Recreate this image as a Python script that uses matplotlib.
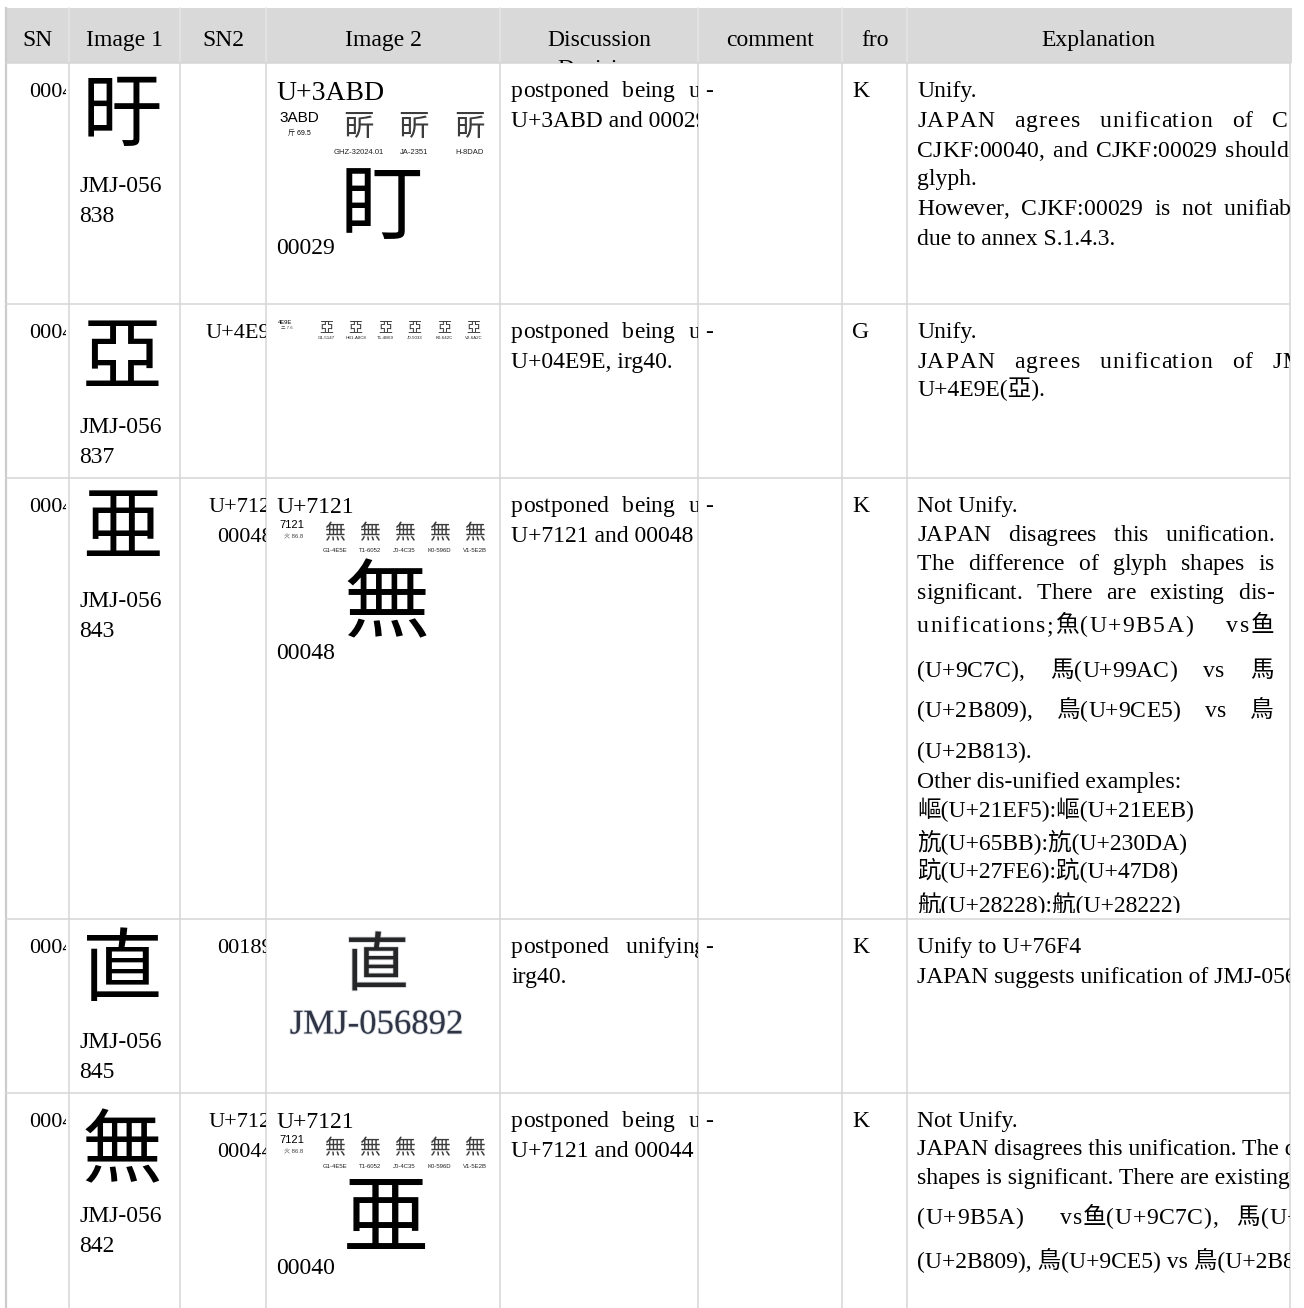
import numpy as np
import matplotlib
matplotlib.use('Agg')
import matplotlib.pyplot as plt
import matplotlib.patheffects as pe
from matplotlib.patches import Rectangle
from matplotlib.font_manager import FontProperties, findfont, get_font

SERIF = 'Liberation Serif'
SANS = 'Liberation Sans'
CJK = 'Noto Sans CJK JP'

# ---- table content ---------------------------------------------------
headers = ['SN', 'Image 1', 'SN2', 'Image 2', 'Discussion', 'comment', 'fro', 'Explanation']
sn = ['00041', '00042', '00043', '00044', '00045']
img1_char = ['旴', '亞', '亜', '直', '無']
img1_code = [['JMJ-056', '838'], ['JMJ-056', '837'], ['JMJ-056', '843'],
             ['JMJ-056', '845'], ['JMJ-056', '842']]
sn2 = [[], ['U+4E9E'], ['U+7121', '00048'], ['00189'], ['U+7121', '00044']]
discussion = [['postponed being unified with', 'U+3ABD and 00029'],
              ['postponed being unified', 'U+04E9E, irg40.'],
              ['postponed being unified', 'U+7121 and 00048'],
              ['postponed unifying', 'irg40.'],
              ['postponed being unified', 'U+7121 and 00044']]
comment = ['-', '-', '-', '-', '-']
fro = ['K', 'G', 'K', 'K', 'K']

refs_3abd = ['GHZ-32024.01', 'JA-2351', 'H-8DAD']
refs_4e9e = ['G1-5147', 'HB1-A8C8', 'T1-4B69', 'J0-5033', 'K0-642C', 'V2-6A2C']
refs_7121 = ['G1-4E5E', 'T1-6052', 'J0-4C35', 'K0-596D', 'V1-5E2B']

explanation = [
    ['Unify.',
     'JAPAN agrees unification of CJKF:00029 and',
     'CJKF:00040, and CJKF:00029 should',
     'glyph.',
     'However, CJKF:00029 is not unifiable',
     'due to annex S.1.4.3.'],
    ['Unify.',
     'JAPAN agrees unification of JMJ-056837 and',
     'U+4E9E(亞).'],
    ['Not Unify.',
     'JAPAN disagrees this unification.',
     'The difference of glyph shapes is',
     'significant. There are existing dis-',
     'unifications;魚(U+9B5A) vs鱼',
     '(U+9C7C), 馬(U+99AC) vs 馬',
     '(U+2B809), 鳥(U+9CE5) vs 鳥',
     '(U+2B813).',
     'Other dis-unified examples:',
     '嶇(U+21EF5):嶇(U+21EEB)',
     '斻(U+65BB):斻(U+230DA)',
     '䟘(U+27FE6):䟘(U+47D8)',
     '航(U+28228):航(U+28222)'],
    ['Unify to U+76F4',
     'JAPAN suggests unification of JMJ-056845 to U+76F4.'],
    ['Not Unify.',
     'JAPAN disagrees this unification. The difference of glyph',
     'shapes is significant. There are existing dis-unifications;魚',
     '(U+9B5A)  vs鱼(U+9C7C), 馬(U+99AC) vs 馬',
     '(U+2B809), 鳥(U+9CE5) vs 鳥(U+2B813).'],
]

# ---- layout ----------------------------------------------------------
W, H = 1304, 1308
col_x = [6, 69, 180, 266, 500, 698, 842, 907, 1290]
row_y = [63, 304, 478, 919, 1093, 1308]
HEAD_TOP = 8
line_gaps = [[30, 30, 28, 30, 30], [30, 28],
             [29, 29, 29, 33, 45, 40, 41, 30, 29, 33, 28, 34], [30], [28, 29, 40, 43]]
expl_style = {(0, 1): dict(track=1.0, extra=12), (0, 2): dict(extra=3), (0, 4): dict(extra=6),
              (1, 1): dict(track=1.0, extra=12),
              (2, 1): dict(right=1274), (2, 2): dict(right=1274),
              (2, 3): dict(right=1274), (2, 4): dict(track=1.5, right=1274),
              (2, 5): dict(right=1274), (2, 6): dict(right=1274),
              (4, 3): dict(track=0.5, extra=12)}
disc_extra = [8, 8, 8, 12, 8]
glyph_dy = [54, 56, 52, 53, 60]
BODY = 17

fig = plt.figure(figsize=(W / 100, H / 100), dpi=100)
ax = fig.add_axes([0, 0, 1, 1])
ax.set_xlim(0, W)
ax.set_ylim(H, 0)
ax.axis('off')

cjk_map = get_font(findfont(FontProperties(family=CJK))).get_charmap()


def have(ch, alt):
    return ch if ord(ch) in cjk_map else alt


def advance(ch, size):
    fam = CJK if ord(ch) >= 0x2E80 else SERIF
    f = get_font(findfont(FontProperties(family=fam)))
    f.set_size(size, 100)
    return f.load_char(ord(ch)).linearHoriAdvance / 65536


def box(x0, y0, x1, y1):
    r = Rectangle((x0, y0), x1 - x0, y1 - y0)
    r.set_transform(ax.transData)
    return r


def one(x, yb, s, size, clip, ha, **kw):
    t = ax.text(x, yb, s, fontsize=size, family=[SERIF, CJK], va='baseline', ha=ha,
                clip_on=clip is not None, **kw)
    if clip is not None:
        t.set_clip_path(clip)


def put(x, yc, s, size=BODY, track=0.0, extra=0.0, right=None, clip=None, ha='left', **kw):
    yb = yc + 0.3 * size * 100 / 72
    if right is None and track == 0 and extra == 0:
        one(x, yb, s, size, clip, ha, **kw)
        return
    adv = [advance(c, size) for c in s]
    if right is not None:
        nat = sum(adv) + track * (len(s) - 1)
        nsp = s.count(' ')
        extra = (right - x - nat) / nsp if nsp else 0.0
    cx = x
    for c, a in zip(s, adv):
        if c != ' ':
            one(cx, yb, c, size, clip, 'left', **kw)
        cx += a + track + (extra if c == ' ' else 0.0)


# header band
ax.add_patch(Rectangle((col_x[0], HEAD_TOP), col_x[-1] - col_x[0] + 2, row_y[0] - HEAD_TOP,
                       facecolor='#d9d9d9', edgecolor='none', zorder=0))
for x in col_x[1:-1]:
    ax.plot([x, x], [HEAD_TOP, row_y[0]], color='#e6e6e6', lw=1.1, zorder=1)
for x in col_x[1:]:
    ax.plot([x, x], [row_y[0], H], color='#d6d6d6', lw=1.1, zorder=1)
ax.plot([col_x[0], col_x[0]], [HEAD_TOP, H], color='#cccccc', lw=1.6, zorder=1)
for y in row_y[:-1]:
    ax.plot([col_x[0], col_x[-1]], [y, y], color='#d6d6d6', lw=1.1, zorder=1)

for i, name in enumerate(headers):
    xc = (col_x[i] + col_x[i + 1]) / 2
    put(xc, 39, name, size=17, ha='center')
put(599, 68, 'Decision', size=17, ha='center', clip=box(500, HEAD_TOP, 698, row_y[0]))

# body rows
for r in range(5):
    top, bot = row_y[r], row_y[r + 1]
    put(29, top + 27, sn[r], size=16, clip=box(col_x[0], top, 66, bot))
    ax.text(122, top + glyph_dy[r], img1_char[r], fontsize=58, family=CJK,
            ha='center', va='center')
    put(79, top + 122, img1_code[r][0], size=17)
    put(79, top + 152, img1_code[r][1], size=17)
    for k, s in enumerate(sn2[r]):
        put(245, top + 27 + 30 * k, s, size=16, ha='center', clip=box(180, top, 266, bot))
    dclip = box(500, top, 698, bot)
    put(511, top + 27, discussion[r][0], extra=disc_extra[r], clip=dclip)
    put(511, top + 57, discussion[r][1], clip=dclip)
    put(705, top + 27, comment[r])
    put(852, top + 27, fro[r])
    eclip = box(907, top, 1290, bot - 6)
    y = top + 27
    for k, s in enumerate(explanation[r]):
        put(917, y, s, clip=eclip, **expl_style.get((r, k), {}))
        if k < len(line_gaps[r]):
            y += line_gaps[r][k]

# Image 2, row 1
put(276, 92, 'U+3ABD', size=20)
ax.text(279, 118, '3ABD', fontsize=11, family=SANS, va='center')
ax.text(288, 133, '斤 69.5', fontsize=5, family=[SANS, CJK], va='center')
for i, ref in enumerate(refs_3abd):
    xc = 358.5 + i * 55.3
    ax.text(xc, 128, have('\u3abd', '昕'), fontsize=22, family=CJK, ha='center', va='center', color='#3c3c3c')
    ax.text(xc, 152, ref, fontsize=5.5, family=SANS, ha='center', va='center', color='#222')
ax.text(381, 209, '盯', fontsize=60, family=CJK, ha='center', va='center')
put(276, 247, '00029', size=17)

# Image 2, row 2
ax.text(278, 322, '4E9E', fontsize=4.2, family=SANS, va='center')
ax.text(281, 328, '二 7.6', fontsize=3.2, family=[SANS, CJK], va='center', color='#444')
for i, ref in enumerate(refs_4e9e):
    xc = 326 + i * 29.5
    ax.text(xc, 327, '亞', fontsize=10, family=CJK, ha='center', va='center', color='#3c3c3c')
    ax.text(xc, 338, ref, fontsize=3.2, family=SANS, ha='center', va='center', color='#222')

# Image 2, rows 3 and 5
for r, big, code in [(2, '無', '00048'), (4, '亜', '00040')]:
    top = row_y[r]
    put(276, top + 28, 'U+7121', size=17)
    ax.text(279, top + 47, '7121', fontsize=8, family=SANS, va='center')
    ax.text(284, top + 58, '火 86.8', fontsize=4.3, family=[SANS, CJK], va='center', color='#444')
    for i, ref in enumerate(refs_7121):
        xc = 334.6 + i * 35
        ax.text(xc, top + 55, '無', fontsize=15, family=CJK, ha='center', va='center', color='#3c3c3c')
        ax.text(xc, top + 73, ref, fontsize=4.3, family=SANS, ha='center', va='center', color='#222')
    ax.text(386, top + 129, big, fontsize=62, family=CJK, ha='center', va='center')
    put(276, top + 174, code, size=17)

# Image 2, row 4 (scanned picture)
blur = [pe.withStroke(linewidth=1.2, foreground='#d5d8de')]
ax.text(377, 967, '直', fontsize=46, family=CJK, ha='center', va='center',
        color='#262626', path_effects=blur)
ax.text(376.5, 1025, 'JMJ-056892', fontsize=25, family=SERIF, ha='center', va='center',
        color='#2e3444', path_effects=blur)

fig.savefig('out.png', dpi=100)
